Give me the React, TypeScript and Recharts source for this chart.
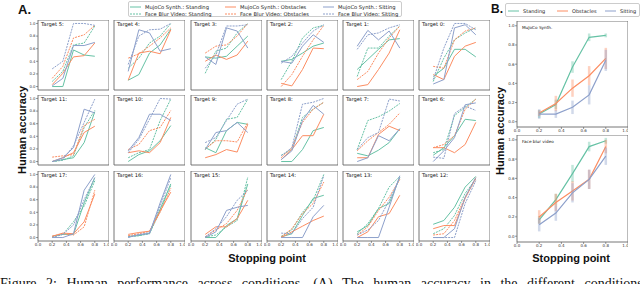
import React from 'react';
import { LineChart, Line, XAxis, YAxis, ReferenceArea, ErrorBar } from 'recharts';

const GREEN = '#66c2a5';
const ORANGE = '#fc8d62';
const BLUE = '#8da0cb';

// stopping points on the x axis
const stops = [0.2, 0.35, 0.5, 0.65, 0.8];
const ticks = [0, 0.2, 0.4, 0.6, 0.8, 1.0];

// per target: MujoCo standing, FaceBlur standing, MujoCo obstacles, FaceBlur obstacles, MujoCo sitting, FaceBlur sitting
const target5 = [[0.0, 0.0, 0.58, 0.5, 0.48], [0.08, 0.24, 0.66, 0.69, 0.96], [0.03, 0.21, 0.47, 0.49, 0.69], [0.13, 0.32, 0.77, 0.82, 0.97], [0.01, 0.13, 0.65, 0.65, 0.7], [0.28, 0.4, 1.0, 1.0, 0.97]];
const target4 = [[0.1, 0.19, 0.53, 0.66, 0.91], [0.29, 0.45, 0.69, 0.8, 1.0], [0.1, 0.53, 0.56, 0.52, 0.9], [0.45, 0.52, 0.64, 0.77, 0.93], [0.24, 0.9, 0.85, 0.56, 0.6], [0.35, 0.8, 0.9, 0.91, 1.0]];
const target3 = [[0.47, 0.45, 0.48, 0.64, 0.8], [0.21, 0.56, 0.61, 0.85, 1.0], [0.4, 0.5, 0.43, 0.5, 0.72], [0.53, 0.64, 0.66, 0.8, 1.0], [0.47, 0.35, 0.93, 0.88, 0.61], [0.29, 0.5, 0.96, 0.96, 0.98]];
const target2 = [[0.4, 0.43, 0.53, 0.64, 0.69], [0.11, 0.4, 0.77, 0.93, 0.97], [0.05, 0.01, 0.27, 0.61, 0.6], [0.0, 0.19, 0.48, 0.74, 0.97], [0.4, 0.37, 0.64, 0.82, 0.7], [0.37, 0.48, 0.69, 0.88, 0.98]];
const target1 = [[0.27, 0.43, 0.59, 0.74, 0.76], [0.16, 0.61, 0.61, 0.8, 0.96], [0.0, 0.03, 0.27, 0.53, 0.9], [0.11, 0.24, 0.53, 0.77, 0.96], [0.64, 0.89, 0.74, 0.88, 0.61], [0.59, 0.82, 0.85, 0.93, 0.98]];
const target0 = [[0.16, 0.29, 0.59, 0.59, 0.47], [0.08, 0.45, 0.74, 0.85, 0.93], [0.19, 0.11, 0.48, 0.64, 0.7], [0.32, 0.29, 0.74, 0.88, 0.93], [0.04, 0.11, 0.93, 0.98, 0.82], [0.11, 0.61, 1.0, 1.0, 0.9]];
const target11 = [[0.0, 0.03, 0.06, 0.3, 0.79], [0.0, 0.02, 0.09, 0.54, 0.81], [0.0, 0.06, 0.14, 0.46, 0.56], [0.07, 0.09, 0.11, 0.57, 0.67], [0.0, 0.06, 0.22, 0.83, 0.77], [0.0, 0.03, 0.25, 0.62, 0.99]];
const target10 = [[0.0, 0.11, 0.17, 0.33, 0.57], [0.06, 0.14, 0.19, 0.65, 0.99], [0.14, 0.17, 0.14, 0.3, 0.7], [0.19, 0.27, 0.49, 0.54, 0.81], [0.17, 0.38, 0.75, 0.75, 0.65], [0.14, 0.35, 0.67, 1.0, 0.99]];
const target9 = [[0.22, 0.14, 0.49, 0.62, 0.59], [0.19, 0.35, 0.67, 0.7, 0.99], [0.06, 0.11, 0.19, 0.15, 0.59], [0.2, 0.33, 0.33, 0.31, 0.62], [0.19, 0.46, 0.49, 0.62, 0.46], [0.3, 0.38, 0.65, 0.91, 0.99]];
const target8 = [[0.0, 0.0, 0.19, 0.49, 0.54], [0.1, 0.19, 0.7, 0.83, 0.94], [0.03, 0.19, 0.41, 0.41, 0.75], [0.06, 0.22, 0.62, 0.83, 0.94], [0.03, 0.17, 0.65, 0.89, 0.75], [0.09, 0.22, 0.91, 0.94, 1.0]];
const target7 = [[0.13, 0.09, 0.18, 0.3, 0.52], [0.19, 0.65, 0.71, 0.8, 0.92], [0.06, 0.06, 0.43, 0.56, 0.49], [0.17, 0.33, 0.46, 0.59, 0.77], [0.0, 0.06, 0.41, 0.33, 0.52], [0.19, 0.38, 0.46, 0.99, 0.96]];
const target6 = [[0.1, 0.22, 0.41, 0.67, 0.65], [0.14, 0.19, 0.73, 0.86, 0.99], [0.22, 0.22, 0.14, 0.27, 0.62], [0.22, 0.27, 0.41, 0.83, 0.99], [0.0, 0.17, 0.38, 0.9, 0.93], [0.07, 0.05, 0.76, 0.88, 0.81]];
const target17 = [[0.02, 0.05, 0.05, 0.55, 0.95], [0.01, 0.05, 0.25, 0.5, 0.9], [0.02, 0.07, 0.06, 0.25, 0.69], [0.02, 0.06, 0.04, 0.17, 0.75], [0.0, 0.0, 0.06, 0.75, 1.0], [0.0, 0.05, 0.2, 0.6, 0.95]];
const target16 = [[0.02, 0.03, 0.07, 0.45, 0.85], [0.01, 0.03, 0.06, 0.42, 0.83], [0.05, 0.08, 0.1, 0.42, 0.72], [0.03, 0.06, 0.1, 0.4, 0.78], [0.0, 0.05, 0.06, 0.55, 1.0], [0.01, 0.04, 0.08, 0.5, 0.95]];
const target15 = [[0.0, 0.0, 0.19, 0.3, 0.85], [0.01, 0.04, 0.17, 0.27, 0.96], [0.05, 0.17, 0.17, 0.3, 0.59], [0.01, 0.12, 0.22, 0.43, 0.77], [0.0, 0.09, 0.43, 0.48, 0.51], [0.01, 0.14, 0.33, 0.59, 0.75]];
const target14 = [[0.01, 0.06, 0.35, 0.62, 0.67], [0.02, 0.12, 0.4, 0.59, 1.0], [0.0, 0.09, 0.18, 0.27, 0.34], [0.01, 0.14, 0.38, 0.54, 0.88], [0.0, 0.0, 0.0, 0.33, 0.51], [0.07, 0.06, 0.3, 0.48, 0.98]];
const target13 = [[0.09, 0.19, 0.46, 0.54, 0.95], [0.06, 0.22, 0.46, 0.8, 0.97], [0.0, 0.09, 0.33, 0.38, 0.67], [0.04, 0.17, 0.43, 0.64, 0.92], [0.0, 0.0, 0.0, 0.48, 0.98], [0.04, 0.12, 0.27, 0.59, 0.95]];
const target12 = [[0.21, 0.27, 0.48, 0.8, 0.97], [0.06, 0.14, 0.35, 0.7, 0.93], [0.14, 0.19, 0.19, 0.62, 0.95], [0.04, 0.06, 0.27, 0.64, 0.93], [0.0, 0.0, 0.14, 0.64, 0.95], [0.0, 0.0, 0.0, 0.54, 0.9]];

const gridRows = [
  [['Target 5:', target5], ['Target 4:', target4], ['Target 3:', target3], ['Target 2:', target2], ['Target 1:', target1], ['Target 0:', target0]],
  [['Target 11:', target11], ['Target 10:', target10], ['Target 9:', target9], ['Target 8:', target8], ['Target 7:', target7], ['Target 6:', target6]],
  [['Target 17:', target17], ['Target 16:', target16], ['Target 15:', target15], ['Target 14:', target14], ['Target 13:', target13], ['Target 12:', target12]],
] as [string, number[][]][][];

// panel B, means and error half-widths
const mujocoStanding = [0.08, 0.18, 0.57, 0.88, 0.9];
const mujocoStandingErr = [0.04, 0.05, 0.06, 0.04, 0.02];
const mujocoObstacles = [0.09, 0.19, 0.35, 0.48, 0.66];
const mujocoObstaclesErr = [0.03, 0.08, 0.09, 0.1, 0.11];
const mujocoSitting = [0.08, 0.08, 0.15, 0.28, 0.64];
const mujocoSittingErr = [0.05, 0.04, 0.07, 0.1, 0.11];
const faceStanding = [0.17, 0.38, 0.65, 0.93, 0.99];
const faceStandingErr = [0.04, 0.06, 0.09, 0.05, 0.03];
const faceObstacles = [0.2, 0.35, 0.47, 0.59, 0.93];
const faceObstaclesErr = [0.07, 0.09, 0.1, 0.1, 0.07];
const faceSitting = [0.12, 0.24, 0.45, 0.59, 0.83];
const faceSittingErr = [0.07, 0.08, 0.1, 0.1, 0.09];

const keys = ['msStand', 'fbStand', 'msObst', 'fbObst', 'msSit', 'fbSit'];
const keyColors = [GREEN, GREEN, ORANGE, ORANGE, BLUE, BLUE];

const colLefts = [38, 114, 191, 267, 343, 419];
const rowTops = [20, 95, 171];
const PW = 71;
const PH = 70;
const YD: [number, number] = [-0.055, 1.055];

const small = { fontFamily: 'DejaVu Sans, sans-serif' };
const fmt = (v: number) => v.toFixed(1);

function TargetPanel({ label, series, left, top, showY, showX }: { label: string; series: number[][]; left: number; top: number; showY: boolean; showX: boolean }) {
  const yw = showY ? 12 : 3;
  const xh = showX ? 9 : 3;
  const data = stops.map((s, i) => {
    const row: Record<string, number> = { x: s };
    keys.forEach((k, j) => (row[k] = series[j][i]));
    return row;
  });
  return (
    <div style={{ position: 'absolute', left: left - yw, top }}>
      <LineChart width={PW + yw} height={PH + xh} data={data} margin={{ top: 0, right: 0, bottom: 0, left: 0 }}>
        <XAxis type="number" dataKey="x" domain={[0, 1]} ticks={ticks} height={xh} axisLine={false} tickSize={2} tickMargin={0.5}
          tickLine={{ stroke: '#555', strokeWidth: 0.6 }} tick={showX ? { fontSize: 4, fill: '#333', ...small } : false} tickFormatter={fmt} />
        <YAxis type="number" domain={YD} allowDataOverflow ticks={ticks} width={yw} axisLine={false} tickSize={2} tickMargin={0.5}
          tickLine={{ stroke: '#555', strokeWidth: 0.6 }} tick={showY ? { fontSize: 3.8, fill: '#333', ...small } : false} tickFormatter={fmt} />
        <ReferenceArea x1={0} x2={1} y1={YD[0]} y2={YD[1]} fill="none" stroke="#666" strokeWidth={0.9} />
        {keys.map((k, j) => (
          <Line key={k} dataKey={k} stroke={keyColors[j]} strokeWidth={1} dot={false} isAnimationActive={false}
            strokeDasharray={j % 2 === 1 ? '2 1' : undefined} />
        ))}
      </LineChart>
      <div style={{ position: 'absolute', left: yw + 3, top: 1, fontSize: 5.2, color: '#111', whiteSpace: 'nowrap', ...small }}>{label}</div>
    </div>
  );
}

function SummaryPanel({ title, top, height, domain, vals, errs }: { title: string; top: number; height: number; domain: [number, number]; vals: number[][]; errs: number[][] }) {
  const yw = 10;
  const xh = 9;
  const data = stops.map((s, i) => ({
    x: s,
    standing: vals[0][i], standingErr: errs[0][i],
    obstacles: vals[1][i], obstaclesErr: errs[1][i],
    sitting: vals[2][i], sittingErr: errs[2][i],
  }));
  const names = ['standing', 'obstacles', 'sitting'];
  const cols = [GREEN, ORANGE, BLUE];
  return (
    <div style={{ position: 'absolute', left: 517 - yw, top }}>
      <LineChart width={111 + yw} height={height + xh} data={data} margin={{ top: 0, right: 0, bottom: 0, left: 0 }}>
        <XAxis type="number" dataKey="x" domain={[0, 1]} ticks={ticks} height={xh} axisLine={false} tickSize={2} tickMargin={0.5}
          tickLine={{ stroke: '#555', strokeWidth: 0.6 }} tick={{ fontSize: 4, fill: '#333', ...small }} tickFormatter={fmt} />
        <YAxis type="number" domain={domain} allowDataOverflow ticks={ticks} width={yw} axisLine={false} tickSize={2} tickMargin={0.5}
          tickLine={{ stroke: '#555', strokeWidth: 0.6 }} tick={{ fontSize: 4, fill: '#333', ...small }} tickFormatter={fmt} />
        <ReferenceArea x1={0} x2={1} y1={domain[0]} y2={domain[1]} fill="none" stroke="#666" strokeWidth={0.9} />
        {names.map((n, j) => (
          <Line key={n} dataKey={n} stroke={cols[j]} strokeWidth={1.2} dot={false} isAnimationActive={false}>
            <ErrorBar dataKey={n + 'Err'} direction="y" width={0} stroke={cols[j]} strokeOpacity={0.4} strokeWidth={2.5} />
          </Line>
        ))}
      </LineChart>
      <div style={{ position: 'absolute', left: yw + 5, top: 4, fontSize: 4.2, color: '#111', whiteSpace: 'nowrap', ...small }}>{title}</div>
    </div>
  );
}

function Swatch({ color, dashed }: { color: string; dashed?: boolean }) {
  return (
    <svg width={11} height={4} style={{ display: 'block' }}>
      <line x1={0} y1={2} x2={11} y2={2} stroke={color} strokeWidth={1} strokeDasharray={dashed ? '2 1' : undefined} />
    </svg>
  );
}

const legendA = [
  { label: 'MujoCo Synth.: Standing', color: GREEN, dashed: false, x: 130, y: 3.5 },
  { label: 'Face Blur Video: Standing', color: GREEN, dashed: true, x: 130, y: 11 },
  { label: 'MujoCo Synth.: Obstacles', color: ORANGE, dashed: false, x: 225, y: 3.5 },
  { label: 'Face Blur Video: Obstacles', color: ORANGE, dashed: true, x: 225, y: 11 },
  { label: 'MujoCo Synth.: Sitting', color: BLUE, dashed: false, x: 323, y: 3.5 },
  { label: 'Face Blur Video: Sitting', color: BLUE, dashed: true, x: 323, y: 11 },
];
const legendB = [
  { label: 'Standing', color: GREEN, x: 508 },
  { label: 'Obstacles', color: ORANGE, x: 557 },
  { label: 'Sitting', color: BLUE, x: 605 },
];

const title = { fontFamily: 'Liberation Sans, Arial, sans-serif', fontWeight: 700, color: '#111', whiteSpace: 'nowrap' as const };

export default function App() {
  return (
    <div style={{ position: 'absolute', left: 0, top: 0, width: 640, height: 284, overflow: 'hidden', background: '#fff' }}>
      <div style={{ ...title, position: 'absolute', left: 18, top: 2, fontSize: 13 }}>A.</div>
      <div style={{ ...title, position: 'absolute', left: 491, top: 2, fontSize: 12 }}>B.</div>

      <div style={{ position: 'absolute', left: 128, top: 0.5, width: 274, height: 16, border: '0.6px solid #ccc', borderRadius: 2, boxSizing: 'border-box' }} />
      {legendA.map((l) => (
        <div key={l.label} style={{ position: 'absolute', left: l.x, top: l.y, display: 'flex', alignItems: 'center', gap: 4, fontSize: 5.2, color: '#222', whiteSpace: 'nowrap', ...small }}>
          <Swatch color={l.color} dashed={l.dashed} />
          <span>{l.label}</span>
        </div>
      ))}

      <div style={{ position: 'absolute', left: 505, top: 3, width: 135, height: 14, border: '0.6px solid #ccc', borderRadius: 2, boxSizing: 'border-box' }} />
      {legendB.map((l) => (
        <div key={l.label} style={{ position: 'absolute', left: l.x, top: 7.5, display: 'flex', alignItems: 'center', gap: 4, fontSize: 5, color: '#222', whiteSpace: 'nowrap', ...small }}>
          <Swatch color={l.color} />
          <span>{l.label}</span>
        </div>
      ))}

      {gridRows.map((row, r) =>
        row.map(([label, series], c) => (
          <TargetPanel key={label} label={label} series={series} left={colLefts[c]} top={rowTops[r]} showY={c === 0} showX={r === 2} />
        ))
      )}

      <SummaryPanel title="MuJoCo Synth." top={21} height={106} domain={[-0.055, 1.05]}
        vals={[mujocoStanding, mujocoObstacles, mujocoSitting]} errs={[mujocoStandingErr, mujocoObstaclesErr, mujocoSittingErr]} />
      <SummaryPanel title="Face blur video" top={135} height={107} domain={[-0.06, 1.05]}
        vals={[faceStanding, faceObstacles, faceSitting]} errs={[faceStandingErr, faceObstaclesErr, faceSittingErr]} />

      <div style={{ ...title, position: 'absolute', left: 22, top: 130, fontSize: 11, transform: 'translate(-50%, -50%) rotate(-90deg)' }}>Human accuracy</div>
      <div style={{ ...title, position: 'absolute', left: 500, top: 131, fontSize: 11, transform: 'translate(-50%, -50%) rotate(-90deg)' }}>Human accuracy</div>
      <div style={{ ...title, position: 'absolute', left: 267, top: 258, fontSize: 11, transform: 'translate(-50%, -50%)' }}>Stopping point</div>
      <div style={{ ...title, position: 'absolute', left: 571, top: 258, fontSize: 11, transform: 'translate(-50%, -50%)' }}>Stopping point</div>

      <div style={{ position: 'absolute', left: 0, top: 276, fontSize: 14, lineHeight: '16px', whiteSpace: 'nowrap', fontFamily: 'Liberation Serif, serif', color: '#111', wordSpacing: 6 }}>
        Figure 2:  Human performance across conditions. (A) The human accuracy in the different conditions
      </div>
    </div>
  );
}
